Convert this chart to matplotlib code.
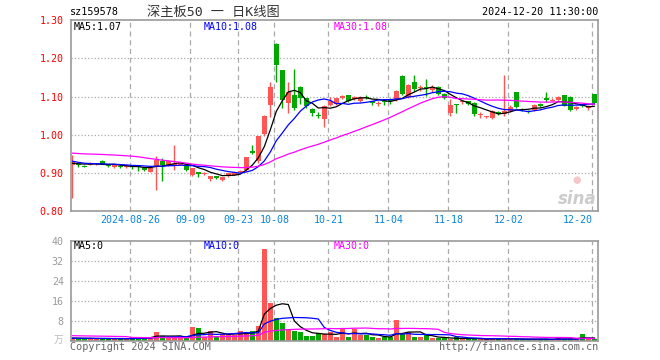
import matplotlib
matplotlib.use("Agg")
import matplotlib.pyplot as plt
import pandas as pd

plt.rcParams['font.family'] = ['DejaVu Sans Mono', 'Noto Sans CJK SC']

# trading days shown (2024-08-12 .. 2024-12-20)
month_days = {
    "08": "12 13 14 15 16 19 20 21 22 23 26 27 28 29 30",
    "09": "02 03 04 05 06 09 10 11 12 13 18 19 20 23 24 25 26 27 30",
    "10": "08 09 10 11 14 15 16 17 18 21 22 23 24 25 28 29 30 31",
    "11": "01 04 05 06 07 08 11 12 13 14 15 18 19 20 21 22 25 26 27 28 29",
    "12": "02 03 04 05 06 09 10 11 12 13 16 17 18 19 20",
}
dates = [f"2024-{m}-{d}" for m, days in month_days.items() for d in days.split()]

open_ = [0.920, 0.924, 0.919, 0.921, 0.924, 0.932, 0.921, 0.915, 0.918, 0.916,
         0.918, 0.918, 0.912, 0.904, 0.918, 0.932, 0.920, 0.919, 0.922, 0.918,
         0.896, 0.902, 0.897, 0.884, 0.891, 0.882, 0.891, 0.896, 0.902, 0.908,
         0.958, 0.931, 1.001, 1.078, 1.237, 1.169, 1.083, 1.105, 1.124, 1.095,
         1.068, 1.053, 1.042, 1.077, 1.080, 1.096, 1.103, 1.094, 1.087, 1.100,
         1.087, 1.081, 1.088, 1.094, 1.091, 1.154, 1.098, 1.137, 1.121, 1.126,
         1.117, 1.126, 1.106, 1.056, 1.080, 1.085, 1.087, 1.084, 1.052, 1.046,
         1.045, 1.060, 1.054, 1.063, 1.112, 1.068, 1.062, 1.065, 1.080, 1.095,
         1.089, 1.092, 1.103, 1.100, 1.067, 1.079, 1.071, 1.106]
close = [0.929, 0.920, 0.917, 0.926, 0.926, 0.924, 0.918, 0.920, 0.915, 0.918,
         0.915, 0.916, 0.908, 0.914, 0.933, 0.920, 0.931, 0.924, 0.927, 0.909,
         0.912, 0.897, 0.901, 0.891, 0.888, 0.889, 0.900, 0.903, 0.906, 0.941,
         0.953, 0.996, 1.049, 1.125, 1.183, 1.091, 1.112, 1.070, 1.096, 1.076,
         1.058, 1.050, 1.075, 1.088, 1.095, 1.101, 1.087, 1.099, 1.100, 1.096,
         1.084, 1.083, 1.085, 1.087, 1.115, 1.106, 1.130, 1.120, 1.126, 1.122,
         1.126, 1.107, 1.097, 1.077, 1.077, 1.088, 1.081, 1.054, 1.054, 1.048,
         1.062, 1.055, 1.062, 1.073, 1.072, 1.066, 1.060, 1.077, 1.075, 1.090,
         1.091, 1.100, 1.076, 1.066, 1.073, 1.075, 1.075, 1.083]
high = [0.948, 0.925, 0.921, 0.928, 0.927, 0.933, 0.922, 0.921, 0.920, 0.920,
        0.919, 0.920, 0.914, 0.916, 0.944, 0.939, 0.933, 0.972, 0.929, 0.919,
        0.914, 0.903, 0.903, 0.893, 0.892, 0.890, 0.901, 0.904, 0.908, 0.942,
        0.972, 0.998, 1.052, 1.138, 1.240, 1.170, 1.137, 1.172, 1.128, 1.097,
        1.070, 1.060, 1.078, 1.100, 1.097, 1.105, 1.105, 1.102, 1.102, 1.104,
        1.088, 1.088, 1.090, 1.097, 1.117, 1.157, 1.132, 1.156, 1.130, 1.147,
        1.130, 1.128, 1.110, 1.093, 1.080, 1.092, 1.089, 1.086, 1.059, 1.050,
        1.064, 1.062, 1.156, 1.077, 1.113, 1.070, 1.064, 1.080, 1.083, 1.112,
        1.095, 1.102, 1.104, 1.101, 1.075, 1.080, 1.078, 1.107]
low = [0.836, 0.917, 0.915, 0.920, 0.922, 0.923, 0.915, 0.912, 0.913, 0.914,
       0.910, 0.906, 0.906, 0.903, 0.856, 0.878, 0.918, 0.907, 0.920, 0.906,
       0.892, 0.889, 0.895, 0.880, 0.885, 0.878, 0.889, 0.894, 0.899, 0.905,
       0.950, 0.925, 0.998, 1.047, 1.137, 1.071, 1.056, 1.065, 1.080, 1.070,
       1.050, 1.043, 1.020, 1.074, 1.078, 1.093, 1.085, 1.090, 1.085, 1.093,
       1.078, 1.075, 1.078, 1.080, 1.089, 1.104, 1.095, 1.115, 1.115, 1.102,
       1.112, 1.105, 1.094, 1.050, 1.057, 1.080, 1.078, 1.050, 1.045, 1.043,
       1.040, 1.053, 1.050, 1.060, 1.070, 1.063, 1.058, 1.062, 1.073, 1.086,
       1.087, 1.089, 1.074, 1.063, 1.065, 1.073, 1.064, 1.080]
volume = [1.2, 0.8, 0.8, 0.9, 0.7, 1.0, 0.8, 0.7, 0.8, 0.6,
          1.4, 1.5, 1.2, 1.3, 3.6, 1.9, 1.2, 1.3, 1.6, 1.0,
          5.6, 5.1, 1.6, 3.9, 1.9, 2.7, 2.6, 2.4, 4.0, 2.6,
          4.0, 5.9, 36.7, 15.2, 9.2, 6.9, 4.3, 4.0, 3.6, 2.0,
          2.0, 3.0, 2.7, 3.4, 1.6, 4.5, 1.4, 4.5, 2.3, 2.3,
          1.4, 0.9, 1.4, 1.4, 8.3, 2.5, 3.6, 1.6, 1.6, 2.3,
          0.9, 0.9, 0.9, 0.5, 1.6, 0.7, 0.7, 0.7, 0.5, 0.5,
          1.2, 0.7, 0.7, 0.5, 0.7, 0.6, 0.5, 0.6, 0.5, 0.6,
          0.5, 1.2, 0.6, 0.7, 0.6, 2.7, 0.9, 0.5]

# history before the window, only used for the moving averages
prev_close = [0.950, 0.945, 0.940, 0.938, 0.942, 0.945, 0.940, 0.943, 0.948, 0.948,
              0.965, 0.975, 0.985, 0.990, 0.988, 0.985, 0.980, 0.978, 0.983, 0.982,
              0.950, 0.940, 0.935, 0.930, 0.928, 0.925, 0.922, 0.925, 0.926]
prev_vol = [2.1, 1.9, 2.0, 2.2, 1.8, 2.0, 2.1, 1.9, 2.0, 12.0,
            2.0, 1.9, 2.1, 2.0, 1.8, 2.2, 2.0, 1.9, 2.1, 2.0,
            1.0, 0.9, 1.1, 1.0, 0.9, 1.0, 1.1, 0.9, 1.0]

tick_dates = ["2024-08-26", "2024-09-09", "2024-09-23", "2024-10-08", "2024-10-21",
              "2024-11-04", "2024-11-18", "2024-12-02", "2024-12-20"]
tick_labels = ["2024-08-26", "09-09", "09-23", "10-08", "10-21", "11-04", "11-18", "12-02", "12-20"]

RED = "#ff5555"
GREEN = "#00a800"
GRID = "#aaaaaa"
W, H = 660, 360


def box(x0, y0, x1, y1):
    return [x0 / W, 1 - y1 / H, (x1 - x0) / W, (y1 - y0) / H]


fig = plt.figure(figsize=(6.6, 3.6), dpi=100)
ax = fig.add_axes(box(70.7, 20, 597.7, 211.3))
axv = fig.add_axes(box(70.7, 240.7, 597.7, 340.7))

x = list(range(len(dates)))
cols = [RED if c >= o else GREEN for o, c in zip(open_, close)]
bottoms = [min(o, c) for o, c in zip(open_, close)]
heights = [max(abs(c - o), 0.0026) for o, c in zip(open_, close)]

ax.vlines(x, low, high, colors=cols, lw=1)
ax.bar(x, heights, bottom=bottoms, width=0.8, color=cols, linewidth=0)

closes = pd.Series(prev_close + close)
vols = pd.Series(prev_vol + volume)
n0 = len(prev_close)
for n, c in [(5, "black"), (10, "#0000ff"), (30, "#ff00ff")]:
    ax.plot(x, closes.rolling(n).mean().iloc[n0:].values, color=c, lw=0.9)
    axv.plot(x, vols.rolling(n).mean().iloc[n0:].values, color=c, lw=0.9)

axv.bar(x, volume, width=0.75, color=cols, linewidth=0)

tick_pos = [dates.index(d) - 0.33 for d in tick_dates]
for a in (ax, axv):
    a.set_xlim(-0.27, 87.57)
    for p in tick_pos:
        a.axvline(p, color=GRID, ls=(0, (4, 3)), lw=0.9, zorder=0)
    for s in a.spines.values():
        s.set_color("#999999")
        s.set_linewidth(1.2)
    a.tick_params(length=0)

ax.set_ylim(0.80, 1.30)
for v in [0.9, 1.0, 1.1, 1.2]:
    ax.axhline(v, color=GRID, ls=":", lw=0.9, zorder=0)
ax.set_yticks([0.8, 0.9, 1.0, 1.1, 1.2, 1.3])
ax.set_yticklabels([f"{v:.2f}" for v in [0.8, 0.9, 1.0, 1.1, 1.2, 1.3]])
ax.tick_params(axis="y", labelcolor="red", labelsize=7.2, pad=5)
ax.set_xticks(tick_pos)
ax.set_xticklabels(tick_labels)
ax.tick_params(axis="x", labelcolor="#0a84d8", labelsize=7.2, pad=3)
ax.get_xticklabels()[-1].set_ha("right")

axv.set_ylim(0, 40)
for v in [8, 16, 24, 32]:
    axv.axhline(v, color=GRID, ls=":", lw=0.9, zorder=0)
axv.set_yticks([8, 16, 24, 32, 40])
axv.tick_params(axis="y", labelcolor="#999999", labelsize=7.2, pad=5)
axv.set_xticks([])


def ftext(px, py, s, **kw):
    fig.text(px / W, 1 - py / H, s, va="center", **kw)


ftext(70, 12, "sz159578", size=7.3)
ftext(213, 12, "深主板50 一 日K线图", ha="center", size=9.5, color="#333333")
ftext(598, 12, "2024-12-20 11:30:00", ha="right", size=7.3)

ftext(74, 27, "MA5:1.07", size=7.2, color="black")
ftext(204, 27, "MA10:1.08", size=7.2, color="#0000ff")
ftext(334, 27, "MA30:1.08", size=7.2, color="#ff00ff")
ftext(74, 246, "MA5:0", size=7.2, color="black")
ftext(204, 246, "MA10:0", size=7.2, color="#0000ff")
ftext(334, 246, "MA30:0", size=7.2, color="#ff00ff")

ftext(63, 340, "万", ha="right", size=7, color="#bbbbbb")
ftext(70, 347, "Copyright 2024 SINA.COM", size=7.3, color="#666666")
ftext(598, 347, "http://finance.sina.com.cn", ha="right", size=7.3, color="#666666")

# faint watermark
ftext(597, 199, "sina", ha="right", size=12, color="#cccccc",
      family="DejaVu Sans", weight="bold", style="italic")
ftext(577, 180, "●", ha="center", size=7, color="#f4c8c8", family="DejaVu Sans")

fig.savefig("out.png", dpi=100)
